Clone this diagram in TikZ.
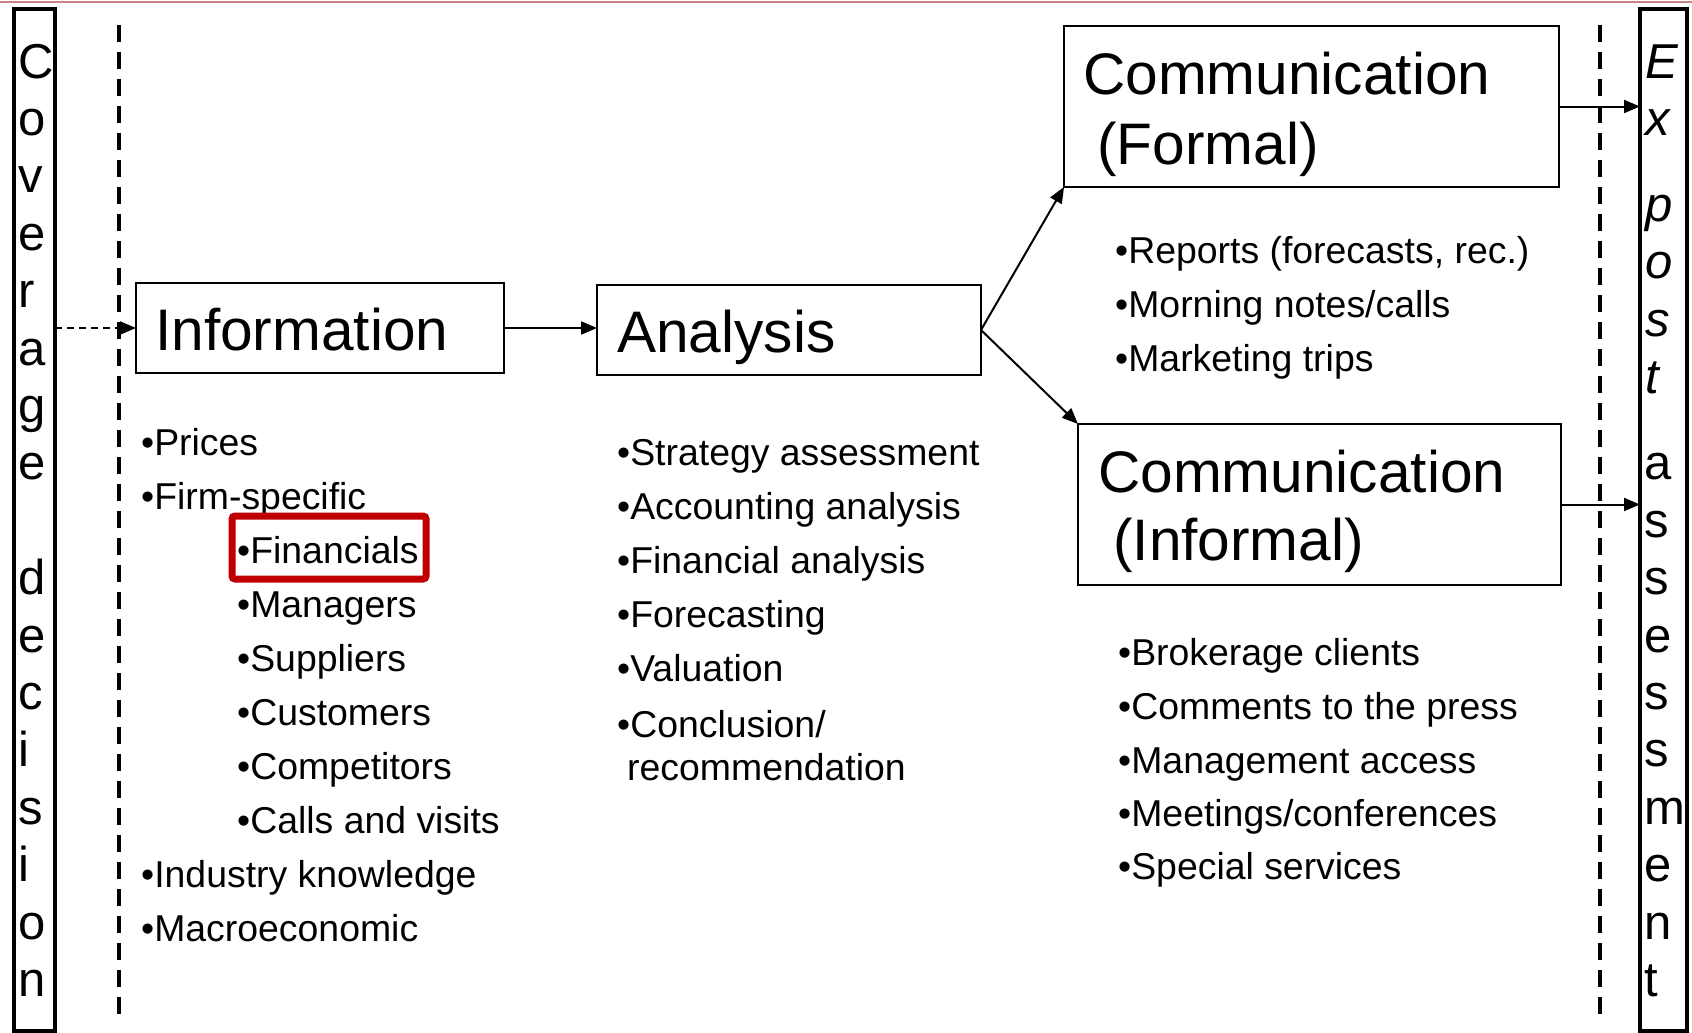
\documentclass[tikz,border=0pt]{standalone}
\usepackage{fontspec}
\setmainfont{Liberation Sans}
\usetikzlibrary{arrows.meta}

\definecolor{hilite}{RGB}{192,0,0}
\definecolor{rule}{RGB}{200,130,130}

\begin{document}
\begin{tikzpicture}[x=1pt,y=-1pt,
    box/.style={draw,line width=2pt,inner sep=0pt,outer sep=0pt,anchor=north west},
    strip/.style={draw,line width=3.5pt,inner sep=0pt,outer sep=0pt,anchor=north west},
    head/.style={anchor=base west,inner sep=0pt,font=\fontsize{58.6}{70}\selectfont},
    item/.style={anchor=base west,inner sep=0pt,font=\fontsize{37.4}{44}\selectfont},
    letter/.style={anchor=base west,inner sep=0pt,font=\fontsize{49}{57}\selectfont},
    flow/.style={line width=2pt,-{Triangle[length=16pt,width=13pt]}},
    border/.style={line width=4.5pt,dash pattern=on 17pt off 10pt}]
  \useasboundingbox (0,0) rectangle (1692,1033);

  \draw[rule,line width=1.5pt] (0,2) -- (1692,2);

  \node[strip,minimum width=41,minimum height=1022] (coverage) at (14,9) {};
  \node[strip,minimum width=47,minimum height=1022] (expost) at (1640,9) {};

  \foreach \ch/\row [count=\i] in {C/0,o/1,v/2,e/3,r/4,a/5,g/6,e/7,
      d/9,e/10,c/11,i/12,s/13,i/14,o/15,n/16}
    \node[letter] (cov\i) at (18,{78+57.4*\row}) {\ch};
  \foreach \ch/\row [count=\i] in {E/0,x/1,p/2.5,o/3.5,s/4.5,t/5.5}
    \node[letter,font=\fontsize{49}{57}\selectfont\itshape] (ex\i) at (1645,{78+57.4*\row}) {\ch};
  \foreach \ch/\row [count=\i] in {a/7,s/8,s/9,e/10,s/11,s/12,m/13,e/14,n/15,t/16}
    \node[letter] (ass\i) at (1644,{78+57.4*\row}) {\ch};

  \draw[border] (119,25) -- (119,1017);
  \draw[border] (1600,25) -- (1600,1017);

  \node[box,minimum width=368,minimum height=90] (info) at (136,283) {};
  \node[box,minimum width=384,minimum height=90] (analysis) at (597,285) {};
  \node[box,minimum width=495,minimum height=161] (formal) at (1064,26) {};
  \node[box,minimum width=483,minimum height=161] (informal) at (1078,424) {};

  \node[head] (infotxt) at (155,350) {Information};
  \node[head] (analysistxt) at (617,352) {Analysis};
  \node[head] (formaltxt) at (1083,94) {Communication};
  \node[head] (formaltxt2) at (1097,164) {(Formal)};
  \node[head] (informaltxt) at (1098,492) {Communication};
  \node[head] (informaltxt2) at (1113,560) {(Informal)};

  \draw[flow,dash pattern=on 7pt off 5pt] (coverage.east |- info.west) -- (info.west);
  \draw[flow] (info.east) -- (info.east -| analysis.west);
  \draw[flow] (analysis.east) -- (formal.south west);
  \draw[flow] (analysis.east) -- (informal.north west);
  \draw[flow] (formal.east) -- (formal.east -| expost.west);
  \draw[flow] (informal.east) -- (informal.east -| expost.west);

  \node[item] (prices) at (141,455) {•Prices};
  \node[item] (firm) at (141,509) {•Firm-specific};
  \node[item] (financials) at (237,563) {•Financials};
  \node[item] (managers) at (237,617) {•Managers};
  \node[item] (suppliers) at (237,671) {•Suppliers};
  \node[item] (customers) at (237,725) {•Customers};
  \node[item] (competitors) at (237,779) {•Competitors};
  \node[item] (calls) at (237,833) {•Calls and visits};
  \node[item] (industry) at (141,887) {•Industry knowledge};
  \node[item] (macro) at (141,941) {•Macroeconomic};

  \node[draw=hilite,line width=7pt,rounded corners=3pt,inner sep=0pt,outer sep=0pt,
    anchor=north west,minimum width=194,minimum height=63] (finbox) at (232,516) {};

  \node[item] (strategy) at (617,465) {•Strategy assessment};
  \node[item] (accounting) at (617,519) {•Accounting analysis};
  \node[item] (financial) at (617,573) {•Financial analysis};
  \node[item] (forecasting) at (617,627) {•Forecasting};
  \node[item] (valuation) at (617,681) {•Valuation};
  \node[item] (conclusion) at (617,737) {•Conclusion/};
  \node[item] (recommendation) at (627,780) {recommendation};

  \node[item] (reports) at (1115,263) {•Reports (forecasts, rec.)};
  \node[item] (morning) at (1115,317) {•Morning notes/calls};
  \node[item] (marketing) at (1115,371) {•Marketing trips};

  \node[item] (brokerage) at (1118,665) {•Brokerage clients};
  \node[item] (press) at (1118,719) {•Comments to the press};
  \node[item] (management) at (1118,773) {•Management access};
  \node[item] (meetings) at (1118,826) {•Meetings/conferences};
  \node[item] (special) at (1118,879) {•Special services};
\end{tikzpicture}
\end{document}
